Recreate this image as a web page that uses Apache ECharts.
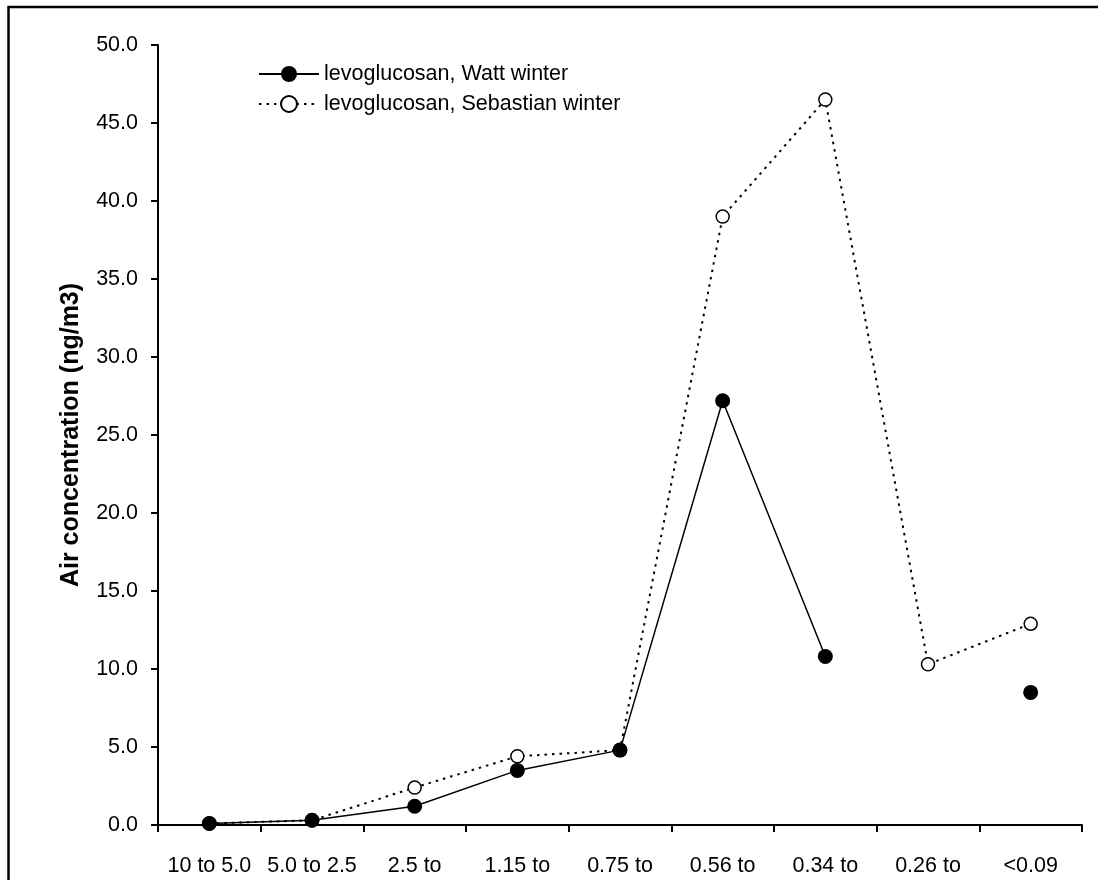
<!DOCTYPE html>
<html>
<head>
<meta charset="utf-8">
<script src="https://cdn.jsdelivr.net/npm/echarts@6/dist/echarts.min.js"></script>
<style>
html,body{margin:0;padding:0;background:#fff;}
#chart{width:1098px;height:880px;}
</style>
</head>
<body>
<div id="chart"></div>
<script>
var categories = ['10 to 5.0', '5.0 to 2.5', '2.5 to', '1.15 to', '0.75 to', '0.56 to', '0.34 to', '0.26 to', '<0.09'];
var wattWinter = [0.1, 0.3, 1.2, 3.5, 4.8, 27.2, 10.8, null, 8.5];
var sebastianWinter = [0.1, 0.3, 2.4, 4.4, 4.8, 39.0, 46.5, 10.3, 12.9];
var yTicks = { min: 0, max: 50, interval: 5 };

var chart = echarts.init(document.getElementById('chart'), null, { renderer: 'canvas' });
var font = '"Liberation Sans", Arial, sans-serif';
chart.setOption({
  animation: false,
  backgroundColor: '#fff',
  graphic: [{
    type: 'rect',
    shape: { x: 8.5, y: 7, width: 1200, height: 1000 },
    style: { fill: 'none', stroke: '#000', lineWidth: 2.5 },
    silent: true, z: 100
  }],
  grid: { left: 158, right: 16, top: 45, bottom: 55, containLabel: false },
  legend: {
    orient: 'vertical',
    left: 253,
    top: 58,
    itemWidth: 60,
    itemHeight: 20,
    itemGap: 8,
    textStyle: { fontFamily: font, fontSize: 21.5, color: '#000', padding: [0, 0, 0, 0] },
    data: ['levoglucosan, Watt winter', 'levoglucosan, Sebastian winter']
  },
  xAxis: {
    type: 'category',
    data: categories,
    boundaryGap: true,
    axisLine: { lineStyle: { color: '#000', width: 2 } },
    axisTick: { show: true, length: 7, lineStyle: { color: '#000', width: 2 }, alignWithLabel: false },
    axisLabel: { fontFamily: font, fontSize: 21.5, color: '#000', margin: 30, interval: 0 },
    splitLine: { show: false }
  },
  yAxis: {
    type: 'value',
    min: yTicks.min,
    max: yTicks.max,
    interval: yTicks.interval,
    name: 'Air concentration (ng/m3)',
    nameLocation: 'middle',
    nameGap: 74,
    nameTextStyle: { fontFamily: font, fontSize: 25, fontWeight: 'bold', color: '#000' },
    axisLine: { show: true, lineStyle: { color: '#000', width: 2 } },
    axisTick: { show: true, length: 7, lineStyle: { color: '#000', width: 2 } },
    axisLabel: { fontFamily: font, fontSize: 21.5, color: '#000', margin: 20,
      formatter: function (v) { return v.toFixed(1); } },
    splitLine: { show: false }
  },
  series: [
    {
      name: 'levoglucosan, Watt winter',
      type: 'line',
      data: wattWinter,
      connectNulls: false,
      symbol: 'circle',
      symbolSize: 15,
      showAllSymbol: true,
      lineStyle: { color: '#000', width: 1.5, type: 'solid' },
      itemStyle: { color: '#000', borderColor: '#000', borderWidth: 0 },
      z: 3
    },
    {
      name: 'levoglucosan, Sebastian winter',
      type: 'line',
      data: sebastianWinter,
      symbol: 'circle',
      symbolSize: 13,
      showAllSymbol: true,
      lineStyle: { color: '#000', width: 2, type: [2.5, 5] },
      itemStyle: { color: '#fff', borderColor: '#000', borderWidth: 1.5 },
      z: 2
    }
  ]
});
</script>
</body>
</html>
